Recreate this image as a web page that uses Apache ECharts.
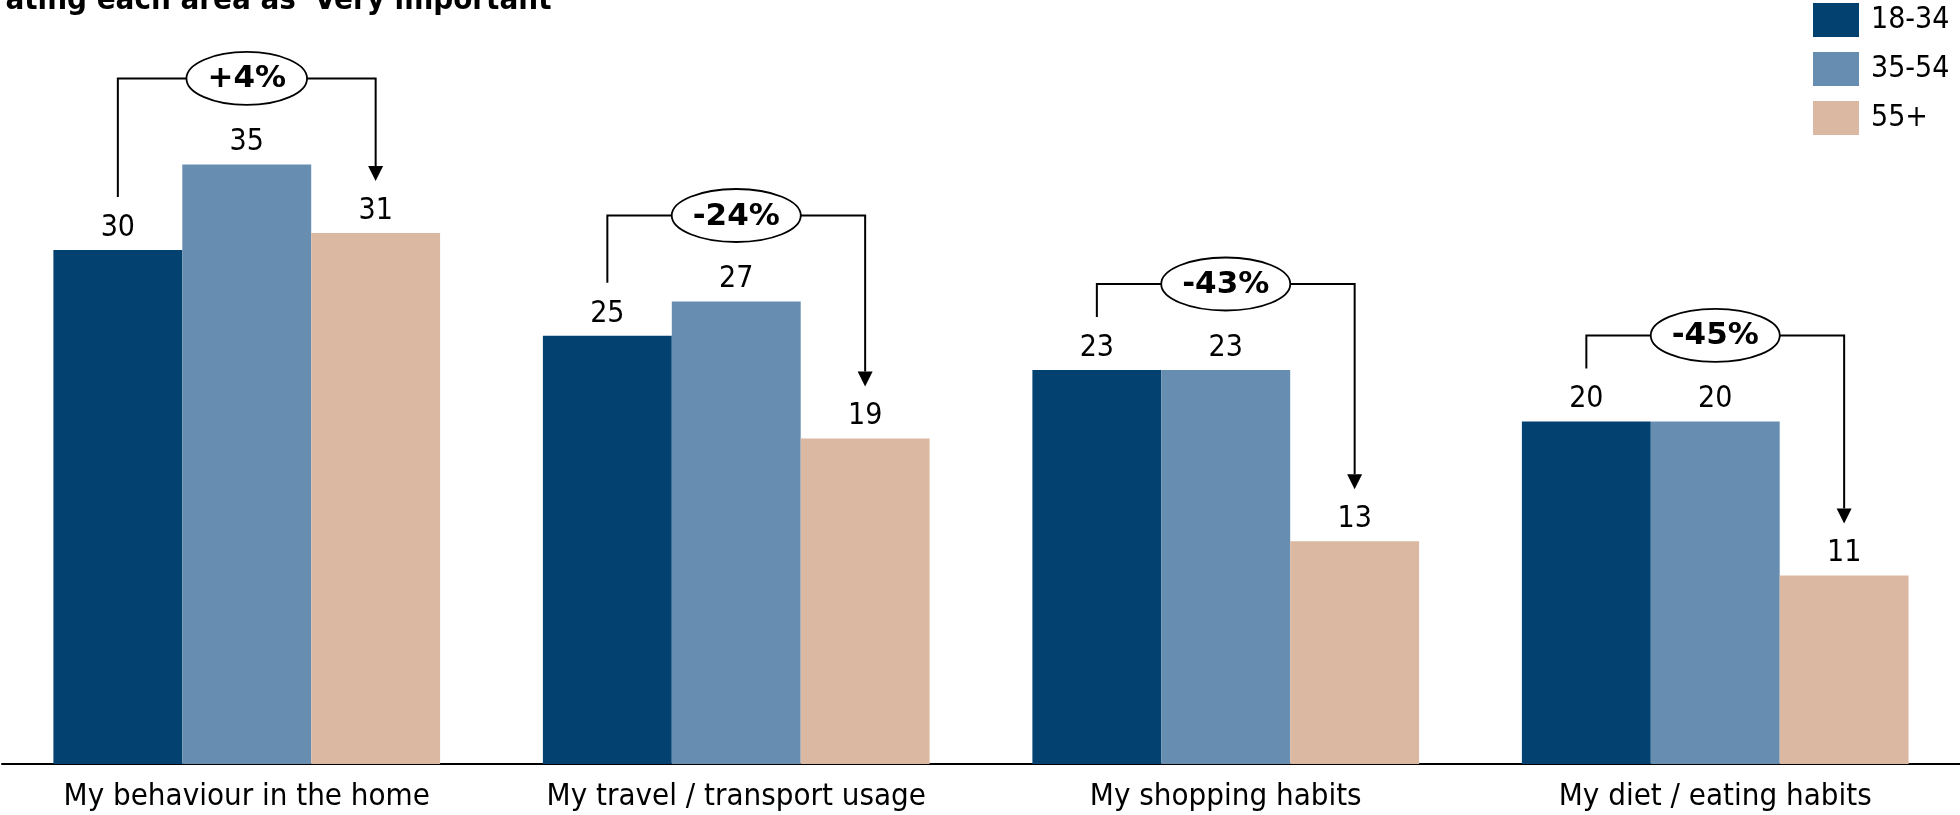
<!DOCTYPE html>
<html>
<head>
<meta charset="utf-8">
<script src="https://cdn.jsdelivr.net/npm/echarts@6/dist/echarts.min.js"></script>
<style>
  html, body { margin: 0; padding: 0; background: #fff; }
  #chart { width: 1960px; height: 815px; }
</style>
</head>
<body>
<div id="chart"></div>
<script>
// Share of each age group rating an area as "very important"
const categories = ['My behaviour in the home', 'My travel / transport usage', 'My shopping habits', 'My diet / eating habits'];
const seriesNames = ['18-34', '35-54', '55+'];
const age18to34 = [30, 25, 23, 20];
const age35to54 = [35, 27, 23, 20];
const age55plus = [31, 19, 13, 11];
// Change from the youngest to the oldest group
const changeLabels = ['+4%', '-24%', '-43%', '-45%'];

const FONT = 'Tahoma, "DejaVu Sans Condensed", "DejaVu Sans", sans-serif';
const COLORS = ['#024170', '#678eb0', '#dbb8a1'];
const GAP = 0.21;
const BADGE_FONT = 'bold 31px "DejaVu Sans", sans-serif';

const measureCtx = document.createElement('canvas').getContext('2d');
function textWidth(text, font) {
  measureCtx.font = font;
  return measureCtx.measureText(text).width;
}

const chart = echarts.init(document.getElementById('chart'));

function barSeries(name, values, color) {
  return {
    name: name,
    type: 'bar',
    data: values,
    barGap: 0,
    barCategoryGap: (GAP * 100) + '%',
    itemStyle: { color: color },
    label: {
      show: true,
      position: 'top',
      distance: 7,
      color: '#000',
      fontSize: 30,
      fontFamily: FONT
    }
  };
}

// Bracket from the 18-34 bar to the 55+ bar with a change badge on top
function renderBracket(params, api) {
  const i = api.value(0);
  const band = api.size([1, 0])[0];
  const barW = band * (1 - GAP) / 3;
  const cx = api.coord([i, 0])[0];
  const xL = cx - barW;
  const xR = cx + barW;
  const y1 = api.coord([i, api.value(1)])[1];
  const y2 = api.coord([i, api.value(2)])[1];
  const y3 = api.coord([i, api.value(3)])[1];
  const hy = Math.min(y1, y2, y3) - 86;
  const tipY = y3 - 52;
  const headH = 15, headW = 15;
  const label = changeLabels[i];
  const rx = textWidth(label, BADGE_FONT) / 2 + 21;
  return {
    type: 'group',
    children: [
      {
        type: 'polyline',
        shape: { points: [[xL, y1 - 53], [xL, hy], [xR, hy], [xR, tipY - headH]] },
        style: { stroke: '#000', lineWidth: 2, fill: null }
      },
      {
        type: 'polygon',
        shape: { points: [[xR - headW / 2, tipY - headH], [xR + headW / 2, tipY - headH], [xR, tipY]] },
        style: { fill: '#000' }
      },
      {
        type: 'ellipse',
        shape: { cx: cx, cy: hy, rx: rx, ry: 26.5 },
        style: { fill: '#fff', stroke: '#000', lineWidth: 1.8 }
      },
      {
        type: 'text',
        style: {
          text: label, x: cx, y: hy + 1,
          align: 'center', verticalAlign: 'middle',
          font: BADGE_FONT, fill: '#000'
        }
      }
    ]
  };
}

const bracketData = categories.map((c, i) => [i, age18to34[i], age35to54[i], age55plus[i]]);

chart.setOption({
  animation: false,
  backgroundColor: '#fff',
  textStyle: { fontFamily: FONT },
  graphic: [
    {
      type: 'text',
      x: 560, y: 16,
      style: {
        text: "% rating each area as 'Very important'",
        align: 'right', verticalAlign: 'bottom',
        font: 'bold 31px ' + FONT, fill: '#000'
      }
    }
  ],
  legend: {
    orient: 'vertical',
    left: 1813,
    top: 3,
    padding: 0,
    icon: 'rect',
    itemWidth: 46,
    itemHeight: 34,
    itemGap: 15,
    data: seriesNames,
    textStyle: { fontSize: 30, color: '#000', fontFamily: FONT, padding: [4, 0, 0, 7] }
  },
  grid: { left: 2, width: 1961, top: 0, bottom: 51, containLabel: false },
  xAxis: {
    type: 'category',
    data: categories,
    axisLine: { lineStyle: { color: '#000', width: 2 } },
    axisTick: { show: false },
    axisLabel: { color: '#000', fontSize: 31, fontFamily: FONT, margin: 17, interval: 0 }
  },
  yAxis: { type: 'value', min: 0, max: 44.6, show: false, splitLine: { show: false } },
  series: [
    barSeries(seriesNames[0], age18to34, COLORS[0]),
    barSeries(seriesNames[1], age35to54, COLORS[1]),
    barSeries(seriesNames[2], age55plus, COLORS[2]),
    {
      type: 'custom',
      data: bracketData,
      renderItem: renderBracket,
      silent: true,
      clip: false,
      z: 10,
      encode: { x: 0, y: 1 }
    }
  ]
});
</script>
</body>
</html>
